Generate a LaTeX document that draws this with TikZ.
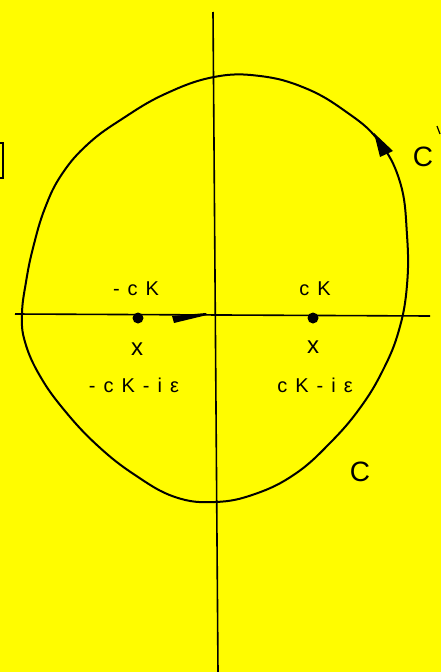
\documentclass[tikz,border=0pt]{standalone}
\usepackage{fontspec}
\newfontfamily\handfont[LetterSpace=40]{Liberation Sans}
\definecolor{paper}{RGB}{255,252,0}

\begin{document}
\begin{tikzpicture}[
        x=1pt, y=-1pt,
        axis/.style={line width=1.6pt, black},
        contour/.style={line width=2pt, black},
        pole/.style={circle, fill=black, inner sep=0pt, minimum size=11pt},
        cross/.style={font=\handfont\fontsize{24}{24}\selectfont, inner sep=0pt},
        lbl/.style={font=\handfont\fontsize{20}{20}\selectfont, inner sep=0pt},
        cname/.style={font=\handfont\fontsize{28}{28}\selectfont, inner sep=0pt}
    ]
        \fill[paper] (0,0) rectangle (441,672);
        \useasboundingbox (0,0) rectangle (441,672);

        % axes
        \coordinate (ytop) at (213,12);
        \coordinate (ybot) at (218,672);
        \coordinate (xleft) at (15,314);
        \coordinate (xright) at (430,316);
        \draw[axis] (ytop) -- (ybot);
        \draw[axis] (xleft) -- (xright);

        % the contour
        \draw[contour] plot[smooth cycle, tension=0.7] coordinates {
            (214,77) (260,76) (305,88) (345,111) (378,140) (400,182)
            (407,235) (407,285) (399,330) (383,370) (360,408) (330,443)
            (295,474) (255,494) (215,502) (175,497) (135,475) (98,446)
            (65,411) (40,376) (25,342) (22,314) (26,282) (33,248)
            (45,208) (62,174) (88,144) (122,119) (165,94)};
        \fill (374,133) -- (380,157) -- (393,151) -- cycle;
        \fill (172,316) -- (174,323) -- (207,315) -- (206,313) -- cycle;

        % poles
        \node[pole] (minusck) at (138,318) {};
        \node[pole] (plusck) at (313,318) {};
        \node[lbl] (minuscklbl) at (136,289) {-cK};
        \node[lbl] (plusckl) at (315,289) {cK};
        \node[cross] (minusx) at (137,349) {x};
        \node[cross] (plusx) at (313,347) {x};
        \node[lbl] (minusielbl) at (134,385) {-cK-iε};
        \node[lbl] (plusielbl) at (315,385) {cK-iε};

        % contour names
        \node[cname] (cupper) at (423,157) {C};
        \node[cname] (clower) at (360,472) {C};
        \draw[line width=1.2pt] (437,126) -- (440,134);
        \draw[line width=2pt] (0,143) -- (3,143) -- (3,178) -- (0,178);
    \end{tikzpicture}
\end{document}
